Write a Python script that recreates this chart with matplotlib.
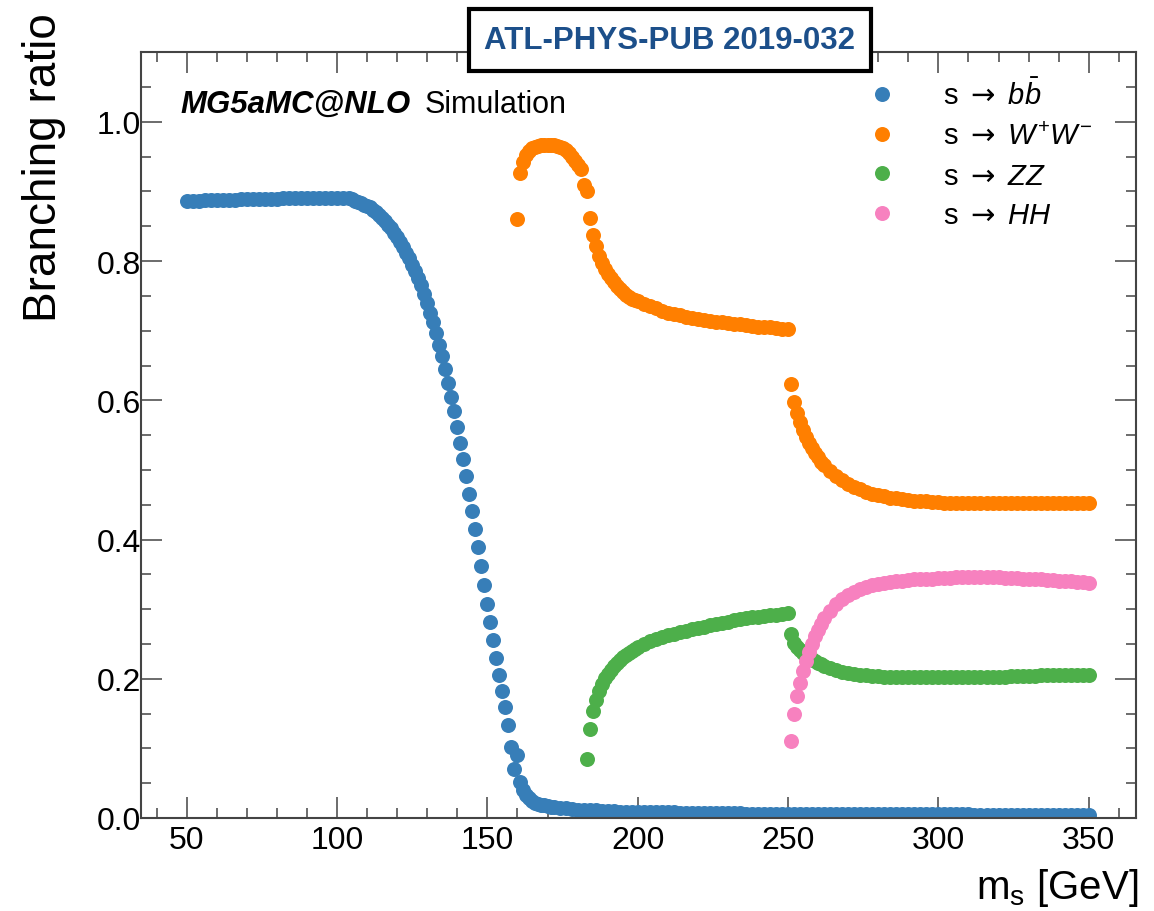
import numpy as np
import matplotlib
matplotlib.use("Agg")
import matplotlib.pyplot as plt

plt.rcParams['font.family'] = ['Liberation Sans', 'DejaVu Sans']
plt.rcParams['mathtext.fontset'] = 'custom'
plt.rcParams['mathtext.rm'] = 'Liberation Sans'
plt.rcParams['mathtext.it'] = 'Liberation Sans:italic'
plt.rcParams['mathtext.bf'] = 'Liberation Sans:bold'
plt.rcParams['mathtext.sf'] = 'DejaVu Sans'

# s -> b bbar
bb_mass = np.concatenate([np.arange(50, 105, 2), np.arange(105, 172), np.arange(172, 351, 2)])
bb_br = [
    0.887, 0.887, 0.887, 0.888, 0.888, 0.888, 0.888, 0.888, 0.888, 0.889,
    0.889, 0.889, 0.889, 0.889, 0.889, 0.889, 0.890, 0.890, 0.890, 0.890,
    0.890, 0.890, 0.890, 0.890, 0.890, 0.890, 0.890, 0.890,
    0.889, 0.887, 0.885, 0.883, 0.881, 0.879, 0.877, 0.874, 0.870, 0.866,
    0.862, 0.857, 0.852, 0.847, 0.841, 0.835, 0.828, 0.820, 0.812, 0.804,
    0.795, 0.786, 0.776, 0.765, 0.753, 0.740, 0.726, 0.712, 0.696, 0.680,
    0.663, 0.645, 0.625, 0.605, 0.584, 0.562, 0.539, 0.515, 0.491, 0.466,
    0.441, 0.415, 0.389, 0.362, 0.335, 0.308, 0.281, 0.255, 0.230, 0.205,
    0.182, 0.160, 0.133, 0.102, 0.070, 0.090, 0.051, 0.040, 0.033, 0.028,
    0.025, 0.022, 0.020, 0.019, 0.018, 0.017, 0.016,
    0.016, 0.015, 0.014, 0.013, 0.012, 0.012, 0.011, 0.011, 0.010, 0.010,
    0.010, 0.009, 0.009, 0.009, 0.009, 0.008, 0.008, 0.008, 0.008, 0.008,
    0.008, 0.007, 0.007, 0.007, 0.007, 0.007, 0.007, 0.007, 0.007, 0.007,
    0.007, 0.007, 0.006, 0.006, 0.006, 0.006, 0.006, 0.006, 0.006, 0.006,
    0.006, 0.006, 0.006, 0.006, 0.006, 0.006, 0.006, 0.006, 0.006, 0.006,
    0.005, 0.005, 0.005, 0.005, 0.005, 0.005, 0.005, 0.005, 0.005, 0.005,
    0.005, 0.005, 0.005, 0.005, 0.005, 0.005, 0.005, 0.005, 0.005, 0.005,
    0.004, 0.004, 0.004, 0.004, 0.004, 0.004, 0.004, 0.004, 0.004, 0.004,
    0.004, 0.004, 0.004, 0.004, 0.004, 0.004, 0.004, 0.004, 0.004, 0.004,
]

# s -> W+W-
ww_mass = np.concatenate([np.arange(160, 201), np.arange(202, 251, 2), np.arange(251, 263), np.arange(264, 351, 2)])
ww_br = [
    0.860, 0.926, 0.942, 0.952, 0.958, 0.962, 0.964, 0.966, 0.967, 0.967,
    0.967, 0.967, 0.967, 0.966, 0.964, 0.962, 0.959, 0.955, 0.950, 0.944,
    0.938, 0.932, 0.910, 0.901, 0.862, 0.838, 0.821, 0.808, 0.797, 0.788,
    0.781, 0.775, 0.770, 0.764, 0.760, 0.756, 0.752, 0.749, 0.746, 0.744,
    0.742,
    0.739, 0.735, 0.732, 0.729, 0.726, 0.724, 0.722, 0.720, 0.718, 0.717,
    0.715, 0.714, 0.713, 0.712, 0.711, 0.710, 0.709, 0.708, 0.707, 0.706,
    0.705, 0.705, 0.704, 0.703, 0.702,
    0.624, 0.598, 0.582, 0.569, 0.558, 0.548, 0.539, 0.531, 0.524, 0.518,
    0.512, 0.507,
    0.498, 0.491, 0.485, 0.480, 0.476, 0.472, 0.469, 0.466, 0.464, 0.462,
    0.460, 0.459, 0.458, 0.457, 0.456, 0.455, 0.455, 0.454, 0.454, 0.453,
    0.453, 0.453, 0.452, 0.452, 0.452, 0.452, 0.452, 0.452, 0.452, 0.452,
    0.452, 0.452, 0.452, 0.452, 0.452, 0.452, 0.452, 0.453, 0.453, 0.453,
    0.453, 0.453, 0.453, 0.453,
]

# s -> ZZ
zz_mass = np.concatenate([np.arange(183, 201), np.arange(202, 251, 2), np.arange(251, 263), np.arange(264, 351, 2)])
zz_br = [
    0.085, 0.128, 0.153, 0.170, 0.183, 0.193, 0.201, 0.207, 0.213, 0.218,
    0.223, 0.227, 0.231, 0.234, 0.237, 0.240, 0.243, 0.246,
    0.250, 0.254, 0.257, 0.260, 0.263, 0.265, 0.267, 0.269, 0.271, 0.273,
    0.275, 0.277, 0.279, 0.280, 0.282, 0.284, 0.286, 0.287, 0.288, 0.289,
    0.290, 0.291, 0.292, 0.293, 0.294,
    0.264, 0.252, 0.246, 0.241, 0.237, 0.234, 0.231, 0.228, 0.225, 0.223,
    0.221, 0.219,
    0.216, 0.213, 0.210, 0.208, 0.207, 0.206, 0.205, 0.204, 0.204, 0.203,
    0.203, 0.203, 0.202, 0.202, 0.202, 0.202, 0.202, 0.202, 0.202, 0.202,
    0.202, 0.202, 0.202, 0.202, 0.203, 0.203, 0.203, 0.203, 0.203, 0.203,
    0.204, 0.204, 0.204, 0.204, 0.204, 0.205, 0.205, 0.205, 0.205, 0.206,
    0.206, 0.206, 0.206, 0.206,
]

# s -> HH
hh_mass = np.concatenate([np.arange(251, 263), np.arange(264, 351, 2)])
hh_br = [
    0.111, 0.149, 0.175, 0.194, 0.211, 0.225, 0.238, 0.250, 0.261, 0.270,
    0.279, 0.287,
    0.298, 0.307, 0.314, 0.320, 0.325, 0.329, 0.332, 0.334, 0.336, 0.338,
    0.339, 0.340, 0.341, 0.342, 0.343, 0.343, 0.344, 0.344, 0.345, 0.345,
    0.345, 0.346, 0.346, 0.346, 0.346, 0.346, 0.346, 0.346, 0.346, 0.345,
    0.345, 0.345, 0.344, 0.344, 0.343, 0.343, 0.342, 0.342, 0.341, 0.340,
    0.340, 0.339, 0.339, 0.338,
]

labels = [r'$\mathrm{s}\ \mathsf{\rightarrow}\ b\bar{b}$', r'$\mathrm{s}\ \mathsf{\rightarrow}\ W^{+}W^{-}$',
          r'$\mathrm{s}\ \mathsf{\rightarrow}\ ZZ$', r'$\mathrm{s}\ \mathsf{\rightarrow}\ HH$']
colors = ['#377eb8', '#ff7f00', '#4daf4a', '#f781bf']

fig = plt.figure(figsize=(11.54, 9.12), dpi=100)
ax = fig.add_axes([0.1219, 0.1020, 0.8622, 0.8396])

series = [(bb_mass, bb_br), (ww_mass, ww_br), (zz_mass, zz_br), (hh_mass, hh_br)]
for (m, br), c, lab in zip(series, colors, labels):
    ax.plot(m, br, 'o', ls='none', color=c, markersize=10.8, markeredgewidth=0, label=lab)

ax.set_xlim(34.7, 365.6)
ax.set_ylim(0, 1.1)
ax.set_xticks(np.arange(50, 351, 50))
ax.set_xticks(np.arange(40, 366, 10), minor=True)
ax.set_yticks(np.arange(0, 1.01, 0.2))
ax.set_yticks(np.arange(0, 1.1, 0.05), minor=True)
ax.set_yticklabels(['0.0', '0.2', '0.4', '0.6', '0.8', '1.0'])

for s in ax.spines.values():
    s.set_linewidth(1.5)
    s.set_color('#444444')
ax.tick_params(which='both', direction='in', top=True, right=True, color='#444444', width=1.1,
               labelsize=23, labelcolor='black')
ax.tick_params(which='major', length=15)
ax.tick_params(which='minor', length=7.5)
ax.tick_params(axis='x', pad=5)
ax.tick_params(axis='y', pad=0)

fig.text(44 / 1154, 1 - 13 / 912, 'Branching ratio', rotation=90, ha='center', va='top', fontsize=33)
fig.text(1138 / 1154, 13 / 912, r'm$_{\mathrm{s}}$ [GeV]', ha='right', va='baseline', fontsize=29)

ax.text(0.0395, 0.922, 'MG5aMC@NLO', transform=ax.transAxes, fontsize=22.5,
        fontweight='bold', fontstyle='italic', va='baseline')
ax.text(0.2857, 0.922, 'Simulation', transform=ax.transAxes, fontsize=22, va='baseline')

ax.legend(loc='upper left', bbox_to_anchor=(0.7304, 0.9655), frameon=False, fontsize=21,
          handlelength=1.0, handletextpad=1.6, labelspacing=0.40, borderpad=0, borderaxespad=0)

fig.text(670 / 1154, 1 - 41 / 912, 'ATL-PHYS-PUB 2019-032', ha='center', va='center',
         fontsize=22.5, fontweight='bold', color='#1c4f8a', zorder=10,
         bbox=dict(boxstyle='square,pad=0.5', facecolor='white', edgecolor='black', linewidth=3))

fig.savefig('out.png', dpi=100)
